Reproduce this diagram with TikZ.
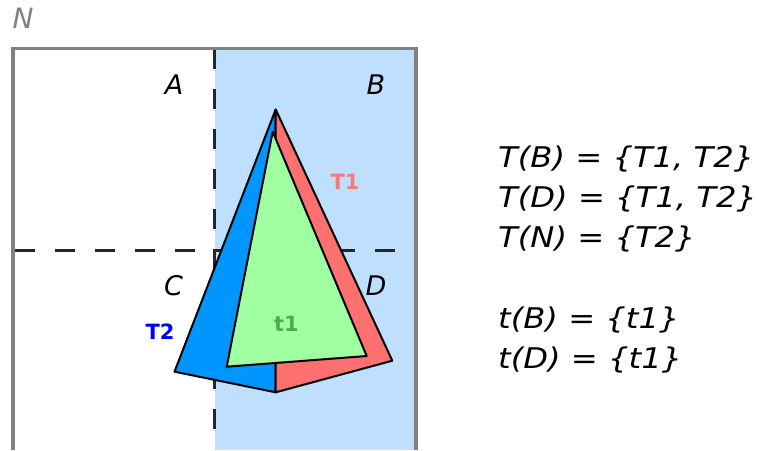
\documentclass[tikz,border=0pt]{standalone}
\usepackage{fontspec}
\setmainfont{DejaVu Sans}
\definecolor{bgblue}{RGB}{191,223,255}
\definecolor{tblue}{RGB}{0,150,255}
\definecolor{tred}{RGB}{255,112,112}
\definecolor{tgreen}{RGB}{160,255,160}
\definecolor{bordergray}{RGB}{128,128,128}
\definecolor{dashgray}{RGB}{38,38,38}
\definecolor{lblred}{RGB}{255,120,120}
\definecolor{lblgreen}{RGB}{80,170,80}
\begin{document}
\begin{tikzpicture}[x=1pt,y=-1pt,
  cell/.style={inner sep=0pt,anchor=base,font=\fontsize{27}{32}\selectfont\itshape},
  trilbl/.style={inner sep=0pt,font=\fontsize{21}{24}\selectfont\bfseries},
  eqn/.style={inner sep=0pt,anchor=base west,font=\fontsize{28.5}{34}\selectfont\itshape},
  tri/.style={draw=black,line width=2pt,line join=round},
  divider/.style={draw=dashgray,line width=2.5pt,dash pattern=on 20pt off 20pt}]
\useasboundingbox (0,0) rectangle (757,450);
% shaded region
\fill[bgblue] (215,48) rectangle (416,450);
% dashed dividers
\coordinate (vtop) at (214.7,49);
\coordinate (vbot) at (214.7,432);
\coordinate (hl) at (15,250.7);
\coordinate (hr) at (397,250.7);
\draw[divider] (vtop) -- (vbot);
\draw[divider] (hl) -- (hr);
% border
\coordinate (b1) at (13,450);
\coordinate (b2) at (13,48.5);
\coordinate (b3) at (416,48.5);
\coordinate (b4) at (416,450);
\draw[bordergray,line width=3.2pt] (b1) -- (b2) -- (b3) -- (b4);
% triangles
\coordinate (apex) at (275.7,109.5);
\coordinate (left) at (174.5,371.7);
\coordinate (bot) at (275.7,392.3);
\coordinate (right) at (392.3,360.7);
\coordinate (gtop) at (272.7,131.7);
\coordinate (gleft) at (226.7,366.7);
\coordinate (gright) at (366.7,356);
\filldraw[tri,fill=tblue] (apex) -- (left) -- (bot) -- cycle;
\filldraw[tri,fill=tred] (apex) -- (right) -- (bot) -- cycle;
\filldraw[tri,fill=tgreen] (gtop) -- (gleft) -- (gright) -- cycle;
% labels
\node[cell,text=bordergray,font=\fontsize{28}{32}\selectfont\itshape] (N) at (23,28) {N};
\node[cell] (A) at (174,94.3) {A};
\node[cell] (B) at (376,94.3) {B};
\node[cell] (C) at (173.5,295.5) {C};
\node[cell] (D) at (376,295.5) {D};
\node[trilbl,text=lblred] (T1) at (345,181.5) {T1};
\node[trilbl,text=blue] (T2) at (160,332) {T2};
\node[trilbl,text=lblgreen] (t1) at (286.5,323.5) {t1};
% equations
\node[eqn] (e1) at (498,167) {\scalebox{1.13}[1]{T(B) = \{T1, T2\}}};
\node[eqn] (e2) at (498,207) {\scalebox{1.13}[1]{T(D) = \{T1, T2\}}};
\node[eqn] (e3) at (498,247) {\scalebox{1.13}[1]{T(N) = \{T2\}}};
\node[eqn] (e4) at (498,328) {\scalebox{1.13}[1]{t(B) = \{t1\}}};
\node[eqn] (e5) at (498,368) {\scalebox{1.13}[1]{t(D) = \{t1\}}};
\end{tikzpicture}
\end{document}
